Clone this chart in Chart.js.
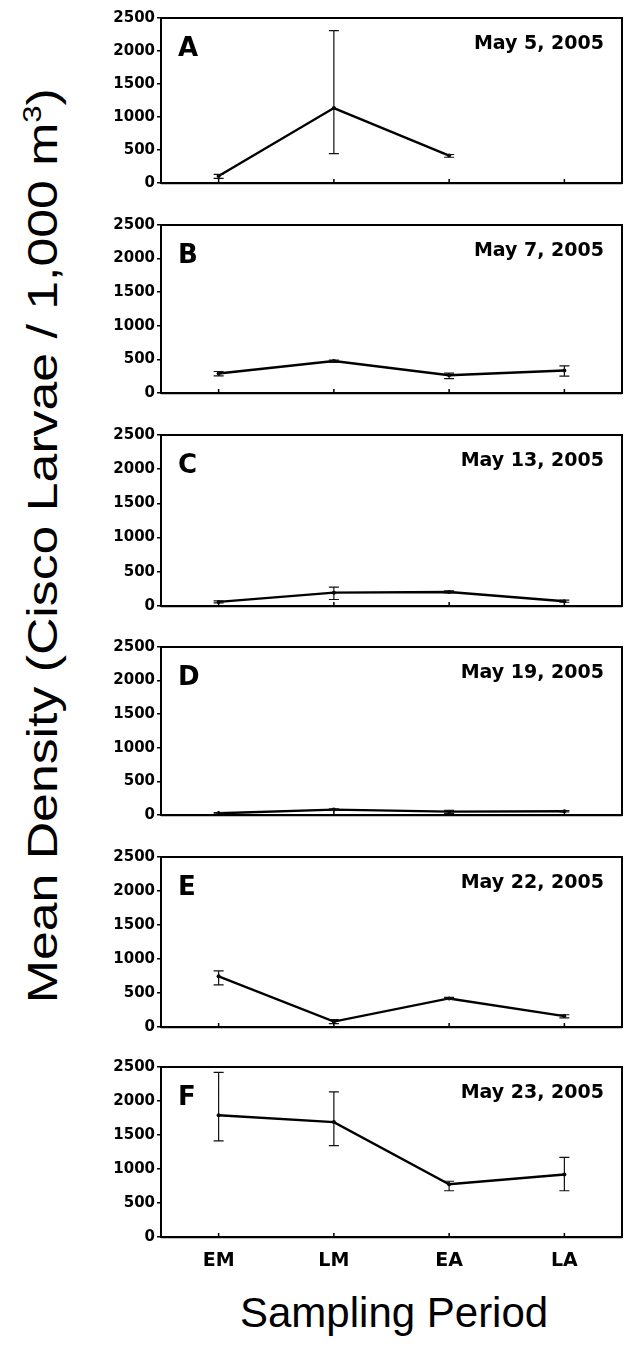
<!DOCTYPE html>
<html>
<head>
<meta charset="utf-8">
<script src="https://cdn.jsdelivr.net/npm/chart.js@4"></script>
<style>
  body { margin:0; background:#fff; }
  #page { position:relative; width:626px; height:1347px; overflow:hidden; background:#fff; }
  .panel { position:absolute; left:104px; width:522px; }
  #yTitle, #xTitle { position:absolute; white-space:nowrap; font-family:"Liberation Sans", Arial, sans-serif; color:#000; line-height:1; }
  #yTitle { font-size:43px; transform-origin:center center; }
  #xTitle { font-size:42px; }
  #yTitle sup { font-size:60%; }
</style>
</head>
<body>
<div id="page">
  <div id="yTitle">Mean Density (Cisco Larvae / 1,000 m<sup>3</sup>)</div>
  <div id="xTitle">Sampling Period</div>
</div>
<script>
// sampling periods (x categories)
const categories = ['EM', 'LM', 'EA', 'LA'];
const yTicks = [0, 500, 1000, 1500, 2000, 2500];

// panel A - May 5, 2005 (no LA sample)
const meanA = [105, 1135, 415, null];
const lowA  = [70, 445, 390, null];
const highA = [130, 2310, 432, null];
// panel B - May 7, 2005
const meanB = [290, 475, 265, 335];
const lowB  = [255, 455, 215, 250];
const highB = [320, 490, 295, 405];
// panel C - May 13, 2005
const meanC = [60, 195, 205, 70];
const lowC  = [45, 95, 190, 55];
const highC = [75, 275, 220, 85];
// panel D - May 19, 2005
const meanD = [25, 80, 50, 55];
const lowD  = [15, 70, 25, 45];
const highD = [35, 90, 70, 65];
// panel E - May 22, 2005
const meanE = [745, 80, 420, 160];
const lowE  = [620, 50, 405, 135];
const highE = [825, 110, 435, 180];
// panel F - May 23, 2005
const meanF = [1790, 1690, 775, 920];
const lowF  = [1415, 1345, 680, 680];
const highF = [2420, 2135, 820, 1170];

const panels = [
  { letter:'A', date:'May 5, 2005',  mean:meanA, low:lowA, high:highA },
  { letter:'B', date:'May 7, 2005',  mean:meanB, low:lowB, high:highB },
  { letter:'C', date:'May 13, 2005', mean:meanC, low:lowC, high:highC },
  { letter:'D', date:'May 19, 2005', mean:meanD, low:lowD, high:highD },
  { letter:'E', date:'May 22, 2005', mean:meanE, low:lowE, high:highE },
  { letter:'F', date:'May 23, 2005', mean:meanF, low:lowF, high:highF }
];

// layout: top / bottom pixel of each plot frame
const frameTop    = [18, 225, 435, 647, 857, 1067];
const frameBottom = [183, 393, 606, 815, 1027, 1237];
const PAD = 12;
const XAXIS_H = 44;

// error bars, frame box, inner ticks and panel labels
function panelPlugin(p) {
  return {
    id: 'panelDecor',
    afterDatasetsDraw(chart) {
      const { ctx, chartArea: a, scales: { x, y } } = chart;
      ctx.save();
      ctx.strokeStyle = '#111';
      ctx.lineWidth = 1.2;
      ctx.beginPath();
      p.mean.forEach((m, i) => {
        if (m == null) return;
        const px = x.getPixelForValue(i);
        const y1 = y.getPixelForValue(p.low[i]);
        const y2 = y.getPixelForValue(p.high[i]);
        ctx.moveTo(px, y1); ctx.lineTo(px, y2);
        ctx.moveTo(px - 5, y1); ctx.lineTo(px + 5, y1);
        ctx.moveTo(px - 5, y2); ctx.lineTo(px + 5, y2);
      });
      ctx.stroke();

      ctx.strokeStyle = '#000';
      ctx.lineWidth = 2;
      ctx.strokeRect(a.left, a.top, a.right - a.left, a.bottom - a.top);
      ctx.beginPath();
      ctx.moveTo(a.left, a.bottom + 0.5); ctx.lineTo(a.right, a.bottom + 0.5);
      ctx.lineWidth = 1.5;
      ctx.stroke();
      ctx.beginPath();
      categories.forEach((c, i) => {
        const px = x.getPixelForValue(i);
        ctx.moveTo(px, a.bottom); ctx.lineTo(px, a.bottom - 4);
      });
      ctx.lineWidth = 1.5;
      ctx.stroke();

      ctx.fillStyle = '#000';
      ctx.textBaseline = 'alphabetic';
      ctx.font = 'bold 26px "DejaVu Sans"';
      ctx.textAlign = 'left';
      ctx.fillText(p.letter, a.left + 17, a.top + 38);
      ctx.font = 'bold 19px "DejaVu Sans"';
      ctx.textAlign = 'right';
      ctx.fillText(p.date, a.right - 18, a.top + 31);
      ctx.restore();
    }
  };
}

const page = document.getElementById('page');

panels.forEach((p, k) => {
  const last = k === panels.length - 1;
  const plotH = frameBottom[k] - frameTop[k];
  const boxH = PAD + plotH + (last ? XAXIS_H : PAD);
  const div = document.createElement('div');
  div.className = 'panel';
  div.style.top = (frameTop[k] - PAD) + 'px';
  div.style.height = boxH + 'px';
  const cv = document.createElement('canvas');
  div.appendChild(cv);
  page.appendChild(div);

  new Chart(cv.getContext('2d'), {
    type: 'line',
    data: {
      labels: categories,
      datasets: [{
        data: p.mean,
        borderColor: '#000',
        borderWidth: 2.4,
        pointRadius: 2,
        pointBackgroundColor: '#000',
        pointBorderWidth: 0,
        tension: 0,
        spanGaps: false
      }]
    },
    options: {
      responsive: true,
      maintainAspectRatio: false,
      animation: false,
      events: [],
      layout: { padding: { top: PAD, bottom: last ? 0 : PAD, right: 3, left: 0 } },
      plugins: { legend: { display: false }, tooltip: { enabled: false } },
      scales: {
        x: {
          type: 'category',
          offset: true,
          grid: { display: false, drawTicks: false },
          border: { display: false },
          ticks: {
            display: last,
            color: '#000',
            padding: 13,
            font: { family: 'DejaVu Sans', weight: 'bold', size: 19 }
          },
          afterFit(s) { s.height = last ? XAXIS_H : 0; }
        },
        y: {
          min: 0,
          max: 2500,
          afterBuildTicks(s) { s.ticks = yTicks.map(v => ({ value: v })); },
          grid: { drawOnChartArea: false, drawTicks: true, tickLength: 4, color: '#000', lineWidth: 1.5 },
          border: { display: false },
          ticks: {
            color: '#000',
            padding: 2,
            font: { family: 'DejaVu Sans', weight: 'bold', size: 15 },
            callback: v => String(v)
          },
          afterFit(s) { s.width = 57; }
        }
      }
    },
    plugins: [panelPlugin(p)]
  });
});

// axis titles
const yT = document.getElementById('yTitle');
const yw = yT.offsetWidth, yh = yT.offsetHeight;
const yScale = 915 / yw;
yT.style.left = (42 - yw / 2) + 'px';
yT.style.top = (545 - yh / 2) + 'px';
yT.style.transform = 'rotate(-90deg) scaleX(' + yScale.toFixed(3) + ')';

const xT = document.getElementById('xTitle');
const xw = xT.offsetWidth;
xT.style.left = (394 - xw / 2) + 'px';
xT.style.top = '1292px';
</script>
</body>
</html>
